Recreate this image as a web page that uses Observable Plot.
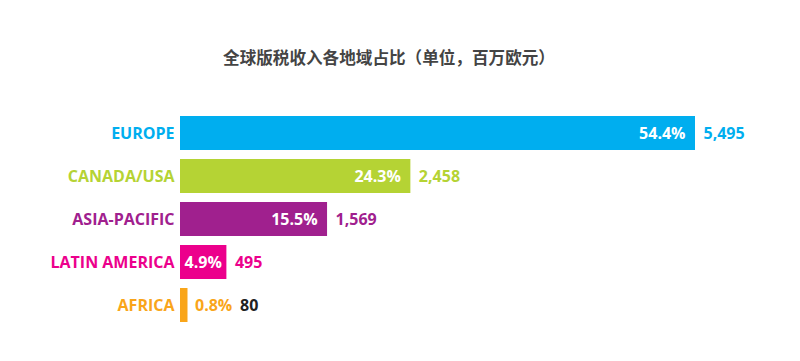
<!DOCTYPE html>
<html>
<head>
<meta charset="utf-8">
<script src="https://cdn.jsdelivr.net/npm/d3@7"></script>
<script src="https://cdn.jsdelivr.net/npm/@observablehq/plot@0.6"></script>
<style>
  html, body { margin: 0; padding: 0; background: #fff; }
  #wrap { width: 800px; height: 361px; overflow: hidden; }
  #title {
    width: 778px; height: 100px; box-sizing: border-box; padding-top: 45px;
    text-align: center; font-family: "Noto Sans CJK SC", sans-serif;
    font-weight: 700; font-size: 16.6px; color: #444; line-height: 24px;
  }
</style>
</head>
<body>
<div id="wrap">
  <div id="title">全球版税收入各地域占比（单位，百万欧元）</div>
  <div id="chart"></div>
</div>
<script>
const regions = ["EUROPE", "CANADA/USA", "ASIA-PACIFIC", "LATIN AMERICA", "AFRICA"];
const values = [5495, 2458, 1569, 495, 80];
const shares = ["54.4%", "24.3%", "15.5%", "4.9%", "0.8%"];
const colors = ["#00aeef", "#b5d334", "#a0208e", "#ec008c", "#f9a51a"];
const valueLabelColors = ["#00aeef", "#b5d334", "#a0208e", "#ec008c", "#222222"];

const data = regions.map((r, i) => ({
  region: r, value: values[i], share: shares[i],
  color: colors[i], vcolor: valueLabelColors[i]
}));

const xMax = d3.max(values);
const inside = data.filter(d => d.value / xMax > 0.05);
const outside = data.filter(d => d.value / xMax <= 0.05);
const big = inside.filter(d => d.value / xMax > 0.2);
const small = inside.filter(d => d.value / xMax <= 0.2);

const font = "'Open Sans', sans-serif";
const fs = 16;

const chart = Plot.plot({
  width: 800,
  height: 261,
  marginTop: 15,
  marginBottom: 37,
  marginLeft: 180,
  marginRight: 105,
  style: { fontFamily: font, background: "transparent" },
  x: { domain: [0, xMax], axis: null },
  y: { domain: regions, axis: null, paddingInner: 0.2, paddingOuter: 0 },
  marks: [
    Plot.barX(data, { x: "value", y: "region", fill: d => d.color }),
    Plot.text(data, {
      x: 0, y: "region", text: "region", textAnchor: "end", dx: -6,
      fill: d => d.color, fontWeight: 700, fontSize: fs
    }),
    Plot.text(big, {
      x: "value", y: "region", text: "share", textAnchor: "end", dx: -10,
      fill: "#fff", fontWeight: 700, fontSize: fs
    }),
    Plot.text(small, {
      x: "value", y: "region", text: "share", textAnchor: "end", dx: -5,
      fill: "#fff", fontWeight: 700, fontSize: fs
    }),
    Plot.text(outside, {
      x: "value", y: "region", text: "share", textAnchor: "start", dx: 7,
      fill: d => d.color, fontWeight: 700, fontSize: fs
    }),
    Plot.text(inside, {
      x: "value", y: "region", text: d => d3.format(",")(d.value), textAnchor: "start", dx: 8,
      fill: d => d.vcolor, fontWeight: 700, fontSize: fs
    }),
    Plot.text(outside, {
      x: "value", y: "region", text: d => d3.format(",")(d.value), textAnchor: "start", dx: 52,
      fill: d => d.vcolor, fontWeight: 700, fontSize: fs
    })
  ]
});
document.getElementById("chart").appendChild(chart);
</script>
</body>
</html>
